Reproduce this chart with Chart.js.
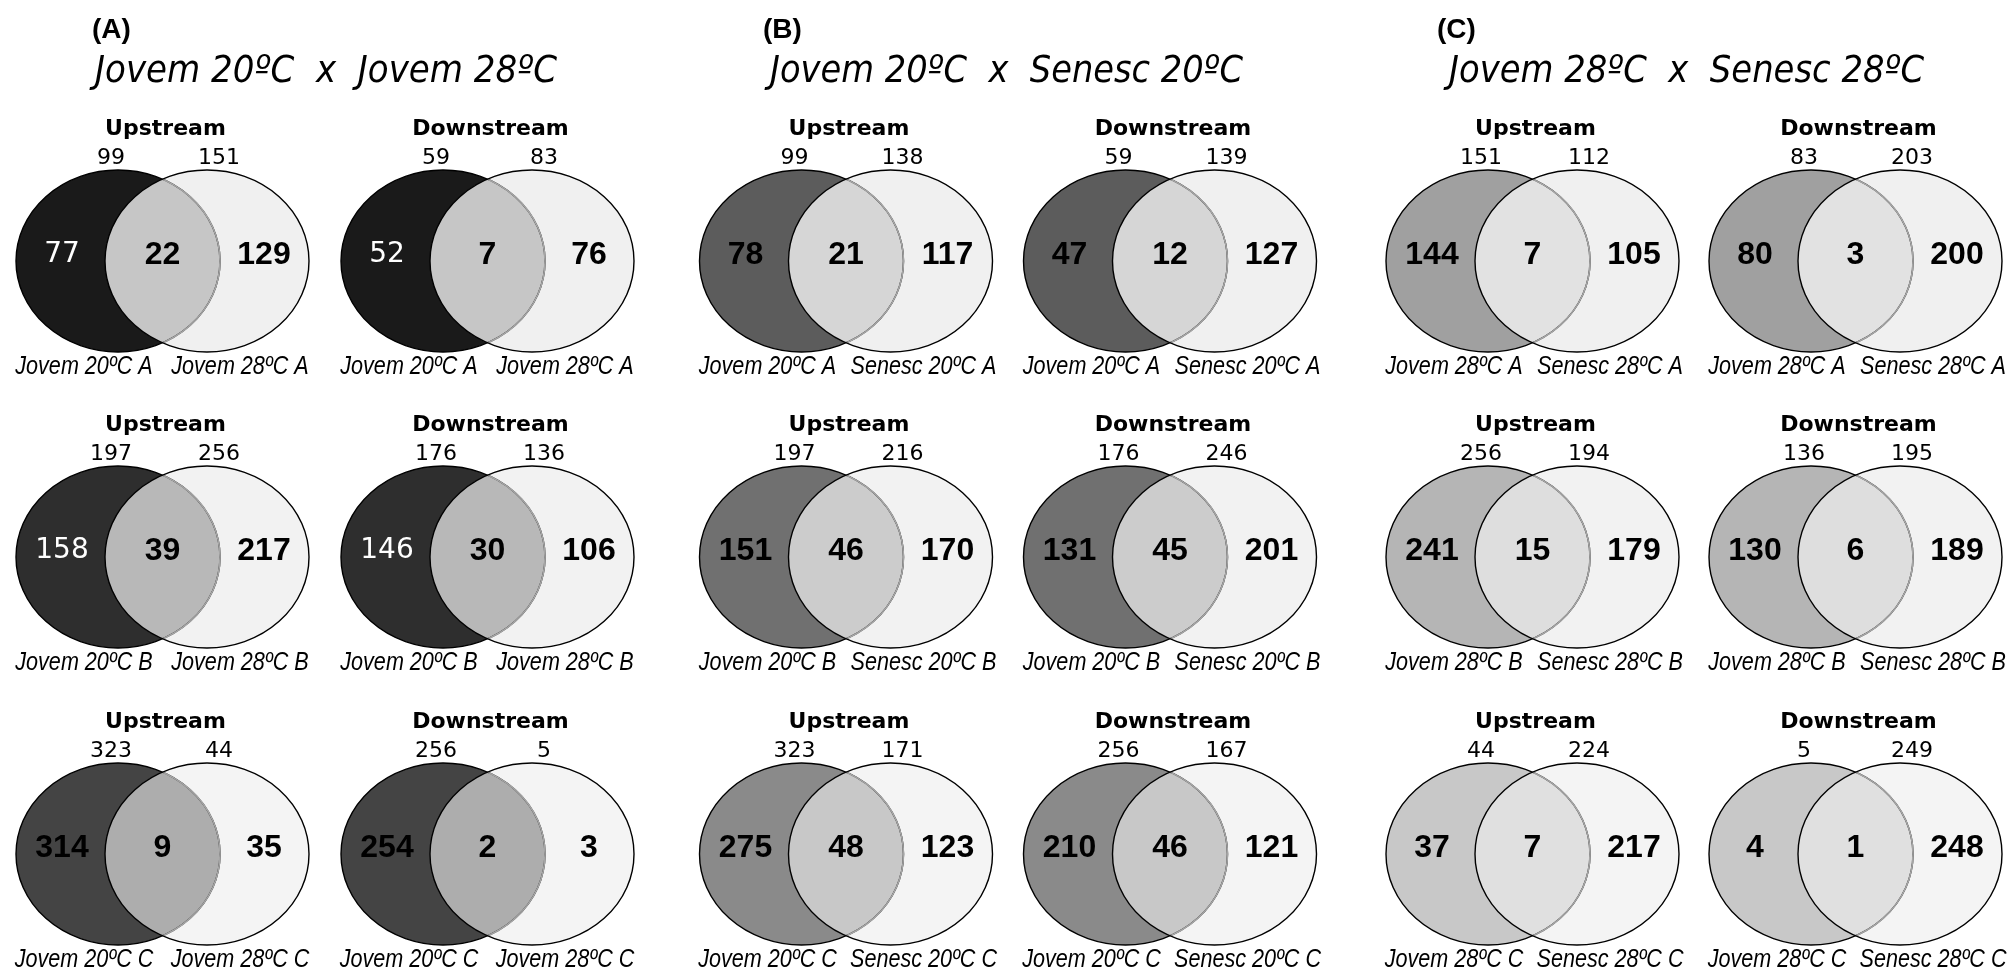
<!DOCTYPE html>
<html>
<head>
<meta charset="utf-8">
<script src="https://cdn.jsdelivr.net/npm/chart.js@4.4.1/dist/chart.umd.min.js"></script>
<style>
  html, body { margin: 0; padding: 0; background: #fff; }
  #wrap { width: 2007px; height: 974px; position: relative; }
</style>
</head>
<body>
<div id="wrap"><canvas id="vennChart"></canvas></div>
<script>
// --- DADOS ---
const panelTags = ['(A)', '(B)', '(C)'];
const comparisons = ['Jovem 20ºC  x  Jovem 28ºC', 'Jovem 20ºC  x  Senesc 20ºC', 'Jovem 28ºC  x  Senesc 28ºC'];
const leftSets = ['Jovem 20ºC', 'Jovem 20ºC', 'Jovem 28ºC'];
const rightSets = ['Jovem 28ºC', 'Senesc 20ºC', 'Senesc 28ºC'];
const replicates = ['A', 'B', 'C'];
const regions = ['Upstream', 'Downstream'];

// ordem: painel -> réplica -> região (up, down)
const leftTotals  = [99, 59, 197, 176, 323, 256,   99, 59, 197, 176, 323, 256,   151, 83, 256, 136, 44, 5];
const rightTotals = [151, 83, 256, 136, 44, 5,     138, 139, 216, 246, 171, 167, 112, 203, 194, 195, 224, 249];
const onlyLeft    = [77, 52, 158, 146, 314, 254,   78, 47, 151, 131, 275, 210,   144, 80, 241, 130, 37, 4];
const shared      = [22, 7, 39, 30, 9, 2,          21, 12, 46, 45, 48, 46,       7, 3, 15, 6, 7, 1];
const onlyRight   = [129, 76, 217, 106, 35, 3,     117, 127, 170, 201, 123, 121, 105, 200, 179, 189, 217, 248];

// --- LAYOUT (unidades do eixo) ---
const colCenters = [162.5, 487.5, 846, 1170, 1532.5, 1855.5];
const rowCenters = [261, 557, 854];
const halfGap = 44.5;
const radiusX = 102;
const radiusY = 91;
const tagX = [92, 763, 1437];
const titleX = [95, 770, 1449];
const titleW = [462, 473, 475];

// --- ESTILO ---
const leftFill = ['#1a1a1a', '#2e2e2e', '#444444', '#5c5c5c', '#707070', '#8a8a8a', '#a0a0a0', '#b5b5b5', '#c8c8c8'];
const lensFill = ['#c6c6c6', '#b8b8b8', '#adadad', '#d6d6d6', '#cccccc', '#c8c8c8', '#e2e2e2', '#dedede', '#e0e0e0'];
const rightFill = ['#f0f0f0', '#f2f2f2', '#f4f4f4'];

const leftPoints = [], rightPoints = [];
for (let p = 0; p < 3; p++) {
  for (let r = 0; r < 3; r++) {
    for (let g = 0; g < 2; g++) {
      const cx = colCenters[p * 2 + g];
      leftPoints.push({ x: cx - halfGap, y: rowCenters[r] });
      rightPoints.push({ x: cx + halfGap, y: rowCenters[r] });
    }
  }
}

function ellipsePath(ctx, x, y, rx, ry) {
  ctx.beginPath();
  ctx.ellipse(x, y, rx, ry, 0, 0, Math.PI * 2);
}

function drawText(ctx, txt, x, y, font, color, align, scaleX) {
  ctx.save();
  ctx.font = font;
  ctx.fillStyle = color;
  ctx.textAlign = align || 'center';
  ctx.textBaseline = 'middle';
  if (scaleX) {
    ctx.translate(x, y);
    ctx.scale(scaleX, 1);
    ctx.fillText(txt, 0, 0);
  } else {
    ctx.fillText(txt, x, y);
  }
  ctx.restore();
}

const vennPlugin = {
  id: 'venn',
  afterDatasetsDraw(chart) {
    const ctx = chart.ctx;
    const xs = chart.scales.x, ys = chart.scales.y;
    const rx = xs.getPixelForValue(radiusX) - xs.getPixelForValue(0);
    const ry = Math.abs(ys.getPixelForValue(radiusY) - ys.getPixelForValue(0));
    const lp = chart.getDatasetMeta(0).data;
    const rp = chart.getDatasetMeta(1).data;
    const dx = v => xs.getPixelForValue(v) - xs.getPixelForValue(0);
    const dy = v => ys.getPixelForValue(v) - ys.getPixelForValue(0);

    // títulos dos painéis
    for (let p = 0; p < 3; p++) {
      drawText(ctx, panelTags[p], xs.getPixelForValue(tagX[p]), ys.getPixelForValue(30),
        'bold 28px "Liberation Sans", Arial, sans-serif', '#000', 'left');
      ctx.save();
      ctx.font = 'italic 37px "DejaVu Sans", sans-serif';
      ctx.fillStyle = '#000';
      ctx.textAlign = 'left';
      ctx.textBaseline = 'alphabetic';
      ctx.fillText(comparisons[p], xs.getPixelForValue(titleX[p]), ys.getPixelForValue(82),
        dx(titleW[p]));
      ctx.restore();
    }

    lp.forEach((L, i) => {
      const R = rp[i];
      const p = Math.floor(i / 6), r = Math.floor((i % 6) / 2), g = i % 2;
      const style = p * 3 + r;
      ctx.save();
      ctx.lineWidth = 1.4;
      // esquerda
      ellipsePath(ctx, L.x, L.y, rx, ry);
      ctx.fillStyle = leftFill[style];
      ctx.fill();
      // direita
      ellipsePath(ctx, R.x, R.y, rx, ry);
      ctx.fillStyle = rightFill[r];
      ctx.fill();
      // interseção
      ctx.save();
      ellipsePath(ctx, L.x, L.y, rx, ry);
      ctx.clip();
      ellipsePath(ctx, R.x, R.y, rx, ry);
      ctx.fillStyle = lensFill[style];
      ctx.fill();
      ctx.restore();
      // contornos
      ellipsePath(ctx, L.x, L.y, rx, ry);
      ctx.strokeStyle = '#000';
      ctx.stroke();
      ctx.save();
      ellipsePath(ctx, R.x, R.y, rx, ry);
      ctx.clip();
      ellipsePath(ctx, L.x, L.y, rx, ry);
      ctx.strokeStyle = '#a5a5a5';
      ctx.lineWidth = 1.6;
      ctx.stroke();
      ctx.restore();
      ellipsePath(ctx, R.x, R.y, rx, ry);
      ctx.strokeStyle = '#000';
      ctx.stroke();
      ctx.restore();

      const mid = (L.x + R.x) / 2;
      // região
      drawText(ctx, regions[g], mid + dx(3), L.y + dy(-132),
        'bold 22px "DejaVu Sans", Verdana, sans-serif', '#000');
      // totais
      drawText(ctx, String(leftTotals[i]), L.x + dx(-7), L.y + dy(-103),
        '22px "DejaVu Sans", Verdana, sans-serif', '#000');
      drawText(ctx, String(rightTotals[i]), R.x + dx(12), L.y + dy(-103),
        '22px "DejaVu Sans", Verdana, sans-serif', '#000');
      // contagens
      const whiteLeft = p === 0 && r < 2;
      drawText(ctx, String(onlyLeft[i]), L.x + dx(-56), L.y + dy(-6),
        whiteLeft ? '28px "DejaVu Sans", Verdana, sans-serif' : 'bold 32px "Liberation Sans", Arial, sans-serif',
        whiteLeft ? '#fff' : '#000');
      drawText(ctx, String(shared[i]), mid, L.y + dy(-6),
        'bold 32px "Liberation Sans", Arial, sans-serif', '#000');
      drawText(ctx, String(onlyRight[i]), R.x + dx(57), L.y + dy(-6),
        'bold 32px "Liberation Sans", Arial, sans-serif', '#000');
      // rótulos
      const labFont = 'italic 26px "Liberation Sans", Arial, sans-serif';
      drawText(ctx, leftSets[p] + ' ' + replicates[r], L.x + dx(-34), L.y + dy(106), labFont, '#000', 'center', 0.83);
      drawText(ctx, rightSets[p] + ' ' + replicates[r], R.x + dx(33), L.y + dy(106), labFont, '#000', 'center', 0.83);
    });
  }
};

new Chart(document.getElementById('vennChart').getContext('2d'), {
  type: 'scatter',
  data: {
    datasets: [
      { label: 'esquerda', data: leftPoints, pointRadius: 0, pointHoverRadius: 0 },
      { label: 'direita', data: rightPoints, pointRadius: 0, pointHoverRadius: 0 }
    ]
  },
  options: {
    responsive: true,
    maintainAspectRatio: false,
    animation: false,
    events: [],
    layout: { padding: 0 },
    plugins: { legend: { display: false }, tooltip: { enabled: false } },
    scales: {
      x: { type: 'linear', min: 0, max: 2007, display: false },
      y: { type: 'linear', min: 0, max: 974, reverse: true, display: false }
    }
  },
  plugins: [vennPlugin]
});
</script>
</body>
</html>
